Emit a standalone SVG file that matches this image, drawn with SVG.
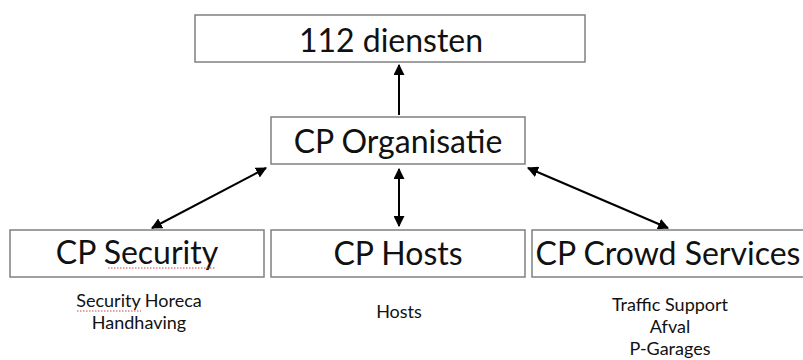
<svg xmlns="http://www.w3.org/2000/svg" width="803" height="360" viewBox="0 0 803 360">
<style>
.box{fill:#fff;stroke:#808080;stroke-width:1.5}
.t{font-family:Lato,"Open Sans","Liberation Sans",sans-serif;fill:#111;text-anchor:middle}
.big{font-size:32px}
.small{font-size:18px}
.c{stroke:#000;stroke-width:2;fill:none}
.sq{fill:none;stroke:#d04040;stroke-width:1;stroke-dasharray:1.5 1.5}
</style>
<defs>
<marker id="ah" viewBox="0 0 10 10" refX="9" refY="5" markerWidth="5.5" markerHeight="5.5" orient="auto-start-reverse" markerUnits="strokeWidth">
<path d="M0,0 L10,5 L0,10 z" fill="#000"/>
</marker>
</defs>
<rect width="803" height="360" fill="#fff"/>
<g id="n112">
<rect class="box" x="195" y="15" width="390" height="47"/>
<text class="t big" x="391" y="52">112 diensten</text>
</g>
<g id="norg">
<rect class="box" x="271" y="117" width="254" height="47"/>
<text class="t big" x="398" y="153">CP Organisatie</text>
</g>
<g id="nsec">
<rect class="box" x="10" y="230" width="254" height="47"/>
<text class="t big" x="137" y="264">CP Security</text>
<text class="t small" x="139" y="307">Security Horeca</text>
<text class="t small" x="139" y="329">Handhaving</text>
<path class="sq" d="M77,311 H141"/>
<path class="sq" d="M108,268 H215"/>
</g>
<g id="nhosts">
<rect class="box" x="271" y="230" width="254" height="47"/>
<text class="t big" x="398" y="265">CP Hosts</text>
<text class="t small" x="399" y="318">Hosts</text>
</g>
<g id="ncrowd">
<rect class="box" x="532" y="230" width="280" height="47"/>
<text class="t big" x="668" y="265">CP Crowd Services</text>
<text class="t small" x="670" y="311">Traffic Support</text>
<text class="t small" x="670" y="333">Afval</text>
<text class="t small" x="670" y="355">P-Garages</text>
</g>
<g id="connectors">
<line class="c" x1="399" y1="115" x2="399" y2="65" marker-end="url(#ah)"/>
<line class="c" x1="399" y1="169" x2="399" y2="226" marker-start="url(#ah)" marker-end="url(#ah)"/>
<line class="c" x1="266" y1="168" x2="152" y2="228" marker-start="url(#ah)" marker-end="url(#ah)"/>
<line class="c" x1="528" y1="168" x2="668" y2="228" marker-start="url(#ah)" marker-end="url(#ah)"/>
</g>
</svg>
